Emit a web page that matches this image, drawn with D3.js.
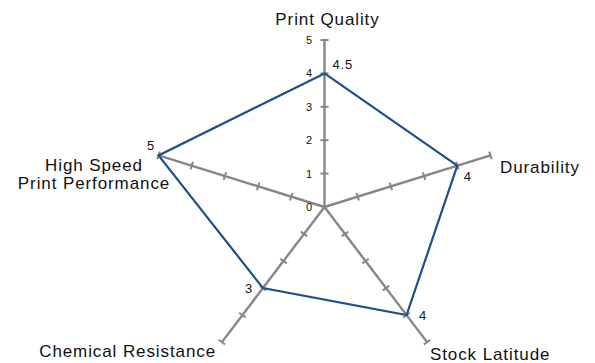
<!DOCTYPE html>
<html>

<head>
    <title>radar</title>
    <style>
        * {
            margin: 0;
            padding: 0;
        }

        body {
            background-color: #fff;
        }

        text {
            font-family: "Liberation Sans", Arial, Helvetica, sans-serif;
            fill: #111;
        }
    </style>
    <script src="https://cdn.jsdelivr.net/npm/d3@7/dist/d3.min.js" type="text/javascript"></script>
</head>

<body>
    <div id="root"></div>

    <script>
        // data
        var categories = ["Print Quality", "Durability", "Stock Latitude", "Chemical Resistance", "High Speed\nPrint Performance"];
        var values = [4, 4, 4, 3, 5];
        var valueLabels = ["4.5", "4", "4", "3", "5"];
        var tickValues = [0, 1, 2, 3, 4, 5];

        // layout of the text around the chart (not data)
        var labelPos = [
            { x: 327.5, y: 25, anchor: "middle" },
            { x: 500, y: 173, anchor: "start" },
            { x: 430, y: 360, anchor: "start" },
            { x: 216, y: 357, anchor: "end" },
            { x: 94, y: 170.5, anchor: "middle" }
        ];
        var valueOffset = [
            { dx: 8, dy: -4.5, anchor: "start" },
            { dx: 6.5, dy: 15, anchor: "start" },
            { dx: 12.5, dy: 5, anchor: "start" },
            { dx: -10, dy: 5, anchor: "end" },
            { dx: -3.5, dy: -5.5, anchor: "end" }
        ];

        render("#root");

        function render(root) {
            var width = 595;
            var height = 363;
            var cx = 324.5;
            var cy = 207;
            var stretch = 1.045;

            var svg = d3.select(root).append("svg").attr("width", width).attr("height", height);

            var r = d3.scaleLinear().domain([0, 5]).range([0, 167]);
            var angle = d3.scaleLinear().domain([0, categories.length]).range([0, 2 * Math.PI]);

            function px(i, v) {
                return cx + Math.sin(angle(i)) * r(v) * stretch;
            }
            function py(i, v) {
                return cy - Math.cos(angle(i)) * r(v);
            }

            var g = svg.append("g");

            // axes
            g.selectAll("line.axis").data(categories).enter()
                .append("line").attr("class", "axis")
                .attr("x1", cx).attr("y1", cy)
                .attr("x2", function (d, i) { return px(i, 5); })
                .attr("y2", function (d, i) { return py(i, 5); })
                .attr("stroke", "#868686")
                .attr("stroke-width", 2.4);

            // tick marks on each axis
            var ticks = [];
            categories.forEach(function (c, i) {
                tickValues.filter(function (t) { return t > 0; }).forEach(function (t) {
                    ticks.push({ i: i, t: t });
                });
            });
            var half = 4;
            g.selectAll("line.tick").data(ticks).enter()
                .append("line").attr("class", "tick")
                .attr("x1", function (d) { return px(d.i, d.t) + Math.cos(angle(d.i)) * half; })
                .attr("y1", function (d) { return py(d.i, d.t) + Math.sin(angle(d.i)) * half; })
                .attr("x2", function (d) { return px(d.i, d.t) - Math.cos(angle(d.i)) * half; })
                .attr("y2", function (d) { return py(d.i, d.t) - Math.sin(angle(d.i)) * half; })
                .attr("stroke", "#868686")
                .attr("stroke-width", 2);

            // scale labels on the first axis
            g.selectAll("text.tick-label").data(tickValues).enter()
                .append("text").attr("class", "tick-label")
                .attr("x", cx - 12.5)
                .attr("y", function (d) { return py(0, d); })
                .attr("dy", "0.36em")
                .attr("text-anchor", "end")
                .style("font-size", "11px")
                .text(function (d) { return d; });

            // the series
            var line = d3.line()
                .x(function (d, i) { return px(i, d); })
                .y(function (d, i) { return py(i, d); })
                .curve(d3.curveLinearClosed);

            g.append("path").datum(values)
                .attr("d", line)
                .attr("fill", "none")
                .attr("stroke", "#1c4f8c")
                .attr("stroke-width", 2.2)
                .attr("stroke-linejoin", "miter");

            // value labels
            g.selectAll("text.value").data(values).enter()
                .append("text").attr("class", "value")
                .attr("x", function (d, i) { return px(i, d) + valueOffset[i].dx; })
                .attr("y", function (d, i) { return py(i, d) + valueOffset[i].dy; })
                .attr("text-anchor", function (d, i) { return valueOffset[i].anchor; })
                .style("font-size", "13px")
                .style("letter-spacing", "0.8px")
                .text(function (d, i) { return valueLabels[i]; });

            // category labels
            var cat = g.selectAll("text.category").data(categories).enter()
                .append("text").attr("class", "category")
                .attr("x", function (d, i) { return labelPos[i].x; })
                .attr("y", function (d, i) { return labelPos[i].y; })
                .attr("text-anchor", function (d, i) { return labelPos[i].anchor; })
                .style("font-size", "17px")
                .style("letter-spacing", "0.9px");

            cat.selectAll("tspan").data(function (d, i) {
                return d.split("\n").map(function (s) { return { s: s, x: labelPos[i].x }; });
            }).enter()
                .append("tspan")
                .attr("x", function (d) { return d.x; })
                .attr("dy", function (d, j) { return j === 0 ? 0 : 18.5; })
                .text(function (d) { return d.s; });
        }

    </script>
</body>

</html>
